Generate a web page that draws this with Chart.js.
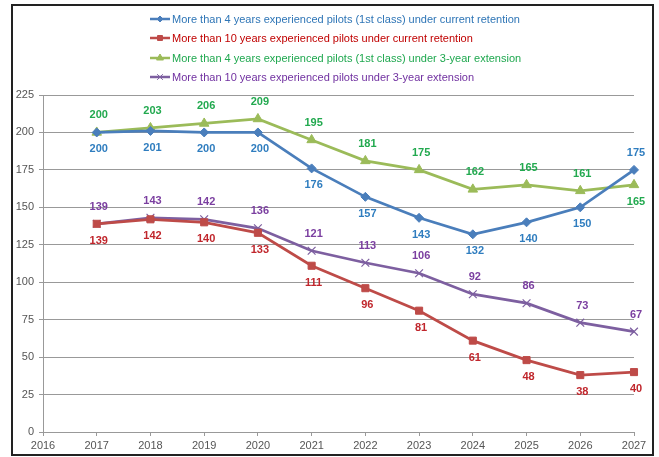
<!DOCTYPE html>
<html>
<head>
<meta charset="utf-8">
<script src="https://cdn.jsdelivr.net/npm/chart.js@4"></script>
<style>
  html, body { margin: 0; padding: 0; background: #fff; }
  #wrap { position: relative; width: 659px; height: 457px; }
  #frame { position: absolute; left: 11px; top: 4px; width: 643px; height: 452px;
           border: 2px solid #222; box-sizing: border-box; pointer-events: none; }
</style>
</head>
<body>
<div id="wrap">
  <canvas id="myChart" width="659" height="457"></canvas>
  <div id="frame"></div>
</div>
<script>
const years = [2017, 2018, 2019, 2020, 2021, 2022, 2023, 2024, 2025, 2026, 2027];
const seriesNames = [
  'More than 4 years experienced pilots (1st class) under current retention',
  'More than 10 years experienced pilots under current retention',
  'More than 4 years experienced pilots (1st class) under 3-year extension',
  'More than 10 years experienced pilots under 3-year extension'
];
const current4 = [200, 201, 200, 200, 176, 157, 143, 132, 140, 150, 175];
const current10 = [139, 142, 140, 133, 111, 96, 81, 61, 48, 38, 40];
const extension4 = [200, 203, 206, 209, 195, 181, 175, 162, 165, 161, 165];
const extension10 = [139, 143, 142, 136, 121, 113, 106, 92, 86, 73, 67];
const yTicks = [0, 25, 50, 75, 100, 125, 150, 175, 200, 225];

const FONT = "'Liberation Sans', Arial, sans-serif";

function pts(values) {
  return years.map((yr, i) => ({ x: yr, y: values[i] }));
}

// line colour, marker, label colour, label side (last point may flip)
const styles = [
  { line: '#4A7EBB', text: '#2F7DBF', legend: '#2E75B6', shape: 'rectRot', r: 4.5, side: i => i === years.length - 1 ? -1 : 1 },
  { line: '#BE4B48', text: '#C0262C', legend: '#C00000', shape: 'rect', r: 5, side: () => 1 },
  { line: '#9BBB59', text: '#22A94F', legend: '#1FA84F', shape: 'triangle', r: 5.5, side: i => i === years.length - 1 ? 1 : -1 },
  { line: '#7D5FA0', text: '#7B3FA0', legend: '#7030A0', shape: 'crossRot', r: 5.5, side: () => -1 }
];
const allValues = [current4, current10, extension4, extension10];

const datasets = allValues.map((vals, k) => ({
  label: seriesNames[k],
  data: pts(vals),
  borderColor: styles[k].line,
  backgroundColor: styles[k].line,
  borderWidth: 2.75,
  pointStyle: styles[k].shape,
  pointRadius: styles[k].r,
  pointBorderWidth: k === 3 ? 1.2 : 1,
  pointBorderColor: styles[k].line,
  pointBackgroundColor: styles[k].line,
  tension: 0,
  clip: false
}));

// draws the value labels above / below the points
const valueLabels = {
  id: 'valueLabels',
  afterDatasetsDraw(chart) {
    const ctx = chart.ctx;
    ctx.save();
    ctx.font = 'bold 11px ' + FONT;
    ctx.textAlign = 'center';
    ctx.textBaseline = 'middle';
    chart.data.datasets.forEach((ds, k) => {
      const meta = chart.getDatasetMeta(k);
      meta.data.forEach((p, i) => {
        ctx.fillStyle = styles[k].text;
        ctx.fillText(String(allValues[k][i]), p.x + 2, p.y + 17 * styles[k].side(i));
      });
    });
    ctx.restore();
  }
};

// legend stacked one item per row, left aligned
const stackedLegend = {
  id: 'stackedLegend',
  afterDraw(chart) {
    const ctx = chart.ctx;
    const x0 = 150, rowY = [19, 38, 58, 77];
    ctx.save();
    ctx.font = '11px ' + FONT;
    ctx.textBaseline = 'middle';
    ctx.textAlign = 'left';
    seriesNames.forEach((name, k) => {
      const y = rowY[k];
      ctx.strokeStyle = styles[k].line;
      ctx.lineWidth = 2.5;
      ctx.beginPath();
      ctx.moveTo(x0, y);
      ctx.lineTo(x0 + 20, y);
      ctx.stroke();
      ctx.fillStyle = styles[k].line;
      ctx.lineWidth = 1;
      Chart.helpers.drawPoint(ctx, {
        pointStyle: styles[k].shape,
        radius: styles[k].r - 1.5,
        rotation: 0,
        borderWidth: 1
      }, x0 + 10, y);
      ctx.fillStyle = styles[k].legend;
      ctx.fillText(name, x0 + 22, y + 1);
    });
    ctx.restore();
  }
};

const config = {
  type: 'line',
  data: { datasets: datasets },
  options: {
    responsive: false,
    animation: false,
    layout: { padding: { left: 12, right: 25, top: 95, bottom: 3 } },
    plugins: {
      legend: { display: false },
      tooltip: { enabled: false }
    },
    scales: {
      x: {
        type: 'linear',
        min: 2016,
        max: 2027,
        afterBuildTicks: s => { s.ticks = [2016].concat(years).map(v => ({ value: v })); },
        ticks: {
          color: '#555',
          font: { family: FONT, size: 11 },
          padding: 3,
          callback: v => String(v),
          maxRotation: 0,
          autoSkip: false
        },
        grid: { drawOnChartArea: false, drawTicks: true, tickLength: 4, color: '#999' },
        border: { color: '#999', width: 1 },
        afterFit: s => { s.height = 22; }
      },
      y: {
        min: 0,
        max: 225,
        afterBuildTicks: s => { s.ticks = yTicks.map(v => ({ value: v })); },
        ticks: {
          color: '#555',
          font: { family: FONT, size: 11 },
          padding: 5
        },
        grid: { color: '#999', tickLength: 4, lineWidth: 1 },
        border: { color: '#999', width: 1 },
        afterFit: s => { s.width = 31; }
      }
    }
  },
  plugins: [valueLabels, stackedLegend]
};

const ctx = document.getElementById('myChart');
const myChart = new Chart(ctx, config);
</script>
</body>
</html>
